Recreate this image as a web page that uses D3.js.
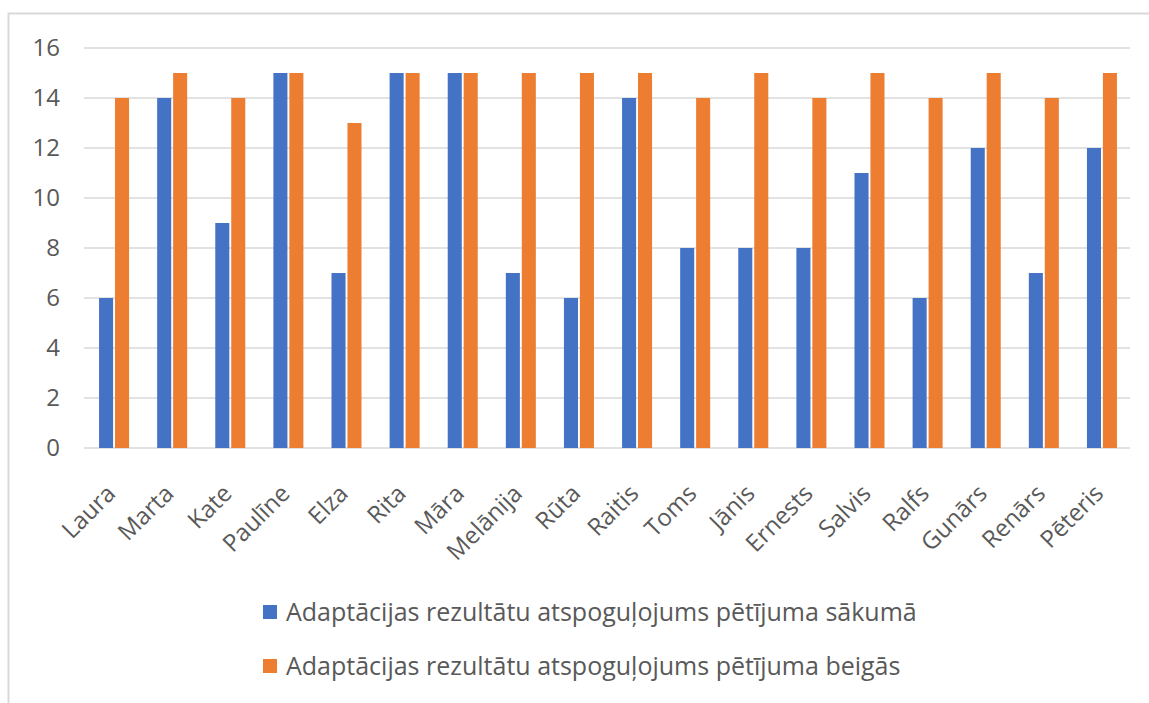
<!DOCTYPE html>
<html>
<head>
<meta charset="utf-8">
<script src="https://cdn.jsdelivr.net/npm/d3@7"></script>
<style>
  body { margin: 0; background: #fff; }
  text { font-family: "Open Sans", "Noto Sans", sans-serif; fill: #595959; }
</style>
</head>
<body>
<div id="chart"></div>
<script>
// data
var names = ["Laura", "Marta", "Kate", "Paulīne", "Elza", "Rita", "Māra", "Melānija", "Rūta",
  "Raitis", "Toms", "Jānis", "Ernests", "Salvis", "Ralfs", "Gunārs", "Renārs", "Pēteris"];
var sakuma = [6, 14, 9, 15, 7, 15, 15, 7, 6, 14, 8, 8, 8, 11, 6, 12, 7, 12];
var beigas = [14, 15, 14, 15, 13, 15, 15, 15, 15, 15, 14, 15, 14, 15, 14, 15, 14, 15];
var seriesNames = ["Adaptācijas rezultātu atspoguļojums pētījuma sākumā",
  "Adaptācijas rezultātu atspoguļojums pētījuma beigās"];
var colors = ["#4472C4", "#ED7D31"];
var yTicks = [0, 2, 4, 6, 8, 10, 12, 14, 16];

var W = 1149, H = 703;
var svg = d3.select("#chart").append("svg")
    .attr("width", W)
    .attr("height", H);

// chart frame (only top and left edges are visible)
svg.append("path")
    .attr("d", "M8.5," + H + "V13.5H" + W)
    .attr("fill", "none")
    .attr("stroke", "#d9d9d9")
    .attr("stroke-width", 2);

var margin = {left: 84, right: 1130, top: 48, bottom: 448};

var x = d3.scaleBand()
    .domain(names)
    .range([margin.left, margin.right]);

var y = d3.scaleLinear()
    .domain([0, 16])
    .range([margin.bottom, margin.top]);

// gridlines
svg.append("g")
  .selectAll("line")
  .data(yTicks)
  .enter().append("line")
    .attr("x1", margin.left)
    .attr("x2", margin.right)
    .attr("y1", function(d) { return y(d) })
    .attr("y2", function(d) { return y(d) })
    .attr("stroke", "#d9d9d9")
    .attr("stroke-width", 1.5);

// y axis labels
var yAxis = svg.append("g")
    .attr("transform", "translate(" + (margin.left - 8) + ",0)")
    .call(d3.axisLeft(y).tickValues(yTicks).tickSize(0).tickPadding(16));
yAxis.select(".domain").remove();
yAxis.attr("font-family", null);
yAxis.selectAll("text")
    .style("font-size", "24px")
    .attr("fill", "#595959");

// bars
var inner = d3.scaleBand()
    .domain([0, 1])
    .range([0, 30])
    .paddingInner(0.12);

var data = names.map(function(n, i) { return {name: n, vals: [sakuma[i], beigas[i]]} });

var groups = svg.selectAll(".grp")
    .data(data)
  .enter().append("g")
    .attr("class", "grp")
    .attr("transform", function(d) { return "translate(" + (x(d.name) + x.bandwidth() / 2 - 14) + ",0)" });

groups.selectAll("rect")
    .data(function(d) { return d.vals })
  .enter().append("rect")
    .attr("x", function(d, i) { return inner(i) })
    .attr("width", inner.bandwidth())
    .attr("y", function(d) { return y(d) })
    .attr("height", function(d) { return y(0) - y(d) })
    .attr("fill", function(d, i) { return colors[i] });

// category labels, rotated
svg.append("g")
  .selectAll("text")
  .data(names)
  .enter().append("text")
    .attr("transform", function(d) { return "translate(" + (x(d) + x.bandwidth() / 2 - 2) + ",489) rotate(-45)" })
    .attr("text-anchor", "end")
    .attr("dy", "0.35em")
    .style("font-size", "24px")
    .text(function(d) { return d });

// legend
var legend = svg.selectAll(".leg")
    .data(seriesNames)
  .enter().append("g")
    .attr("class", "leg")
    .attr("transform", function(d, i) { return "translate(263," + (605 + i * 54) + ")" });

legend.append("rect")
    .attr("width", 14)
    .attr("height", 14)
    .attr("fill", function(d, i) { return colors[i] });

legend.append("text")
    .attr("x", 23)
    .attr("y", 7)
    .attr("dy", "0.35em")
    .style("font-size", "25px")
    .text(function(d) { return d });
</script>
</body>
</html>
